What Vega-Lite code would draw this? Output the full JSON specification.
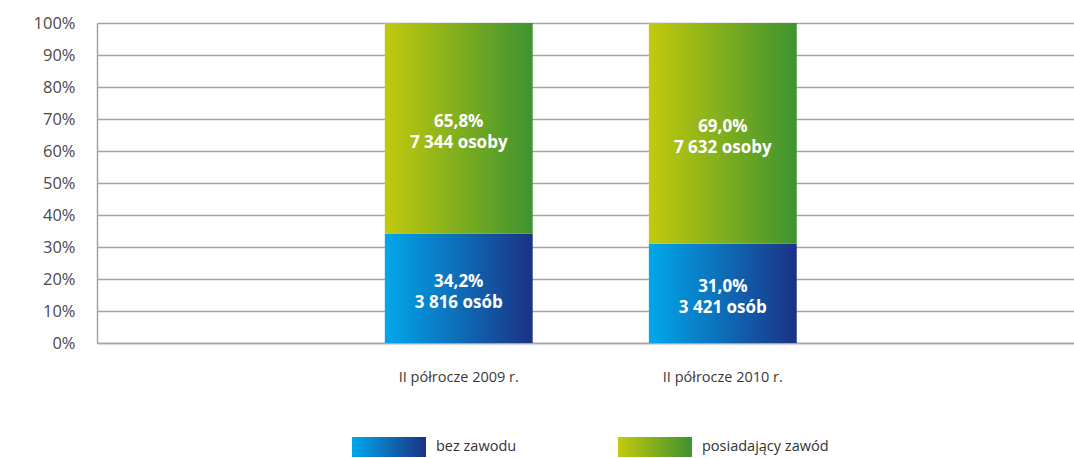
{
  "$schema": "https://vega.github.io/schema/vega-lite/v6.json",
  "width": 977,
  "height": 320,
  "autosize": "none",
  "padding": {"left": 97, "top": 23, "right": 0, "bottom": 115},
  "config": {
    "view": {"stroke": null},
    "font": "Open Sans"
  },
  "data": {
    "values": [
      {"okres": "II półrocze 2009 r.", "type": "bez zawodu", "share": 0.342, "label": "34,2%\n3 816 osób"},
      {"okres": "II półrocze 2009 r.", "type": "posiadający zawód", "share": 0.658, "label": "65,8%\n7 344 osoby"},
      {"okres": "II półrocze 2010 r.", "type": "bez zawodu", "share": 0.31, "label": "31,0%\n3 421 osób"},
      {"okres": "II półrocze 2010 r.", "type": "posiadający zawód", "share": 0.69, "label": "69,0%\n7 632 osoby"}
    ]
  },
  "encoding": {
    "x": {
      "field": "okres",
      "type": "nominal",
      "scale": {"paddingInner": 0.3, "paddingOuter": 1, "align": 0.51},
      "axis": {
        "title": null,
        "labelAngle": 0,
        "ticks": false,
        "labelPadding": 27,
        "labelFontSize": 14.5,
        "labelColor": "#3a3a3a",
        "domainColor": "#a8a39f",
        "domainWidth": 1.5
      }
    },
    "y": {
      "field": "share",
      "type": "quantitative",
      "stack": "zero",
      "scale": {"domain": [0, 1], "nice": false},
      "axis": {
        "title": null,
        "format": ".0%",
        "values": [0, 0.1, 0.2, 0.3, 0.4, 0.5, 0.6, 0.7, 0.8, 0.9, 1],
        "labelOverlap": false,
        "ticks": false,
        "labelPadding": 22,
        "labelFontSize": 16.5,
        "labelColor": "#4a4a4a",
        "gridColor": "#a8a39f",
        "gridWidth": 1.5,
        "domainColor": "#a8a39f",
        "domainWidth": 1.5
      }
    },
    "order": {"field": "type", "sort": "ascending"}
  },
  "layer": [
    {
      "mark": {"type": "bar", "strokeWidth": 0, "width": {"band": 0.8}},
      "encoding": {
        "color": {
          "field": "type",
          "type": "nominal",
          "scale": {
            "domain": ["bez zawodu", "posiadający zawód"],
            "range": [
              {"expr": "{gradient: 'linear', x1: 0, x2: 1, y1: 0, y2: 0, stops: [{offset: 0, color: '#00a8ea'}, {offset: 1, color: '#1b3285'}]}"},
              {"expr": "{gradient: 'linear', x1: 0, x2: 1, y1: 0, y2: 0, stops: [{offset: 0, color: '#c3ca0c'}, {offset: 1, color: '#3d9331'}]}"}
            ]
          },
          "legend": {
            "title": null,
            "orient": "none",
            "direction": "horizontal",
            "legendX": 255,
            "legendY": 387,
            "symbolType": "M-1,-0.27H1V0.27H-1Z",
            "symbolSize": 5476,
            "symbolStrokeWidth": 0,
            "symbolOpacity": 1,
            "labelFontSize": 14.5,
            "labelColor": "#333333",
            "labelOffset": 10,
            "columnPadding": 101
          }
        }
      }
    },
    {
      "mark": {"type": "text", "color": "white", "fontWeight": "bold", "fontSize": 17, "lineBreak": "\n", "lineHeight": 21, "baseline": "middle", "dy": -6},
      "encoding": {
        "y": {"field": "share", "type": "quantitative", "stack": "zero", "bandPosition": 0.5},
        "detail": {"field": "type"},
        "text": {"field": "label"}
      }
    }
  ]
}
